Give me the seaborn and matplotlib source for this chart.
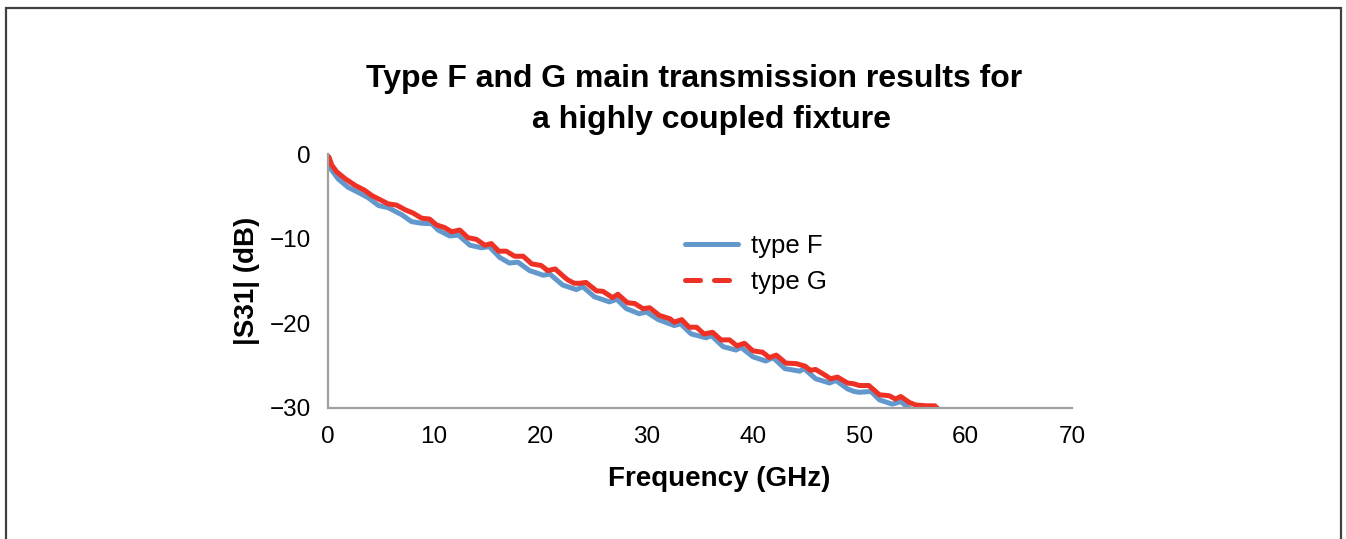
import matplotlib
matplotlib.use("Agg")
import matplotlib.pyplot as plt
from matplotlib.lines import Line2D
from matplotlib.patches import Rectangle
import seaborn as sns
import pandas as pd

# ---- data ----
freq_g = [0, 0.15, 0.4, 0.86, 1.64, 2.58, 3.5, 4.15, 4.93, 5.7, 6.5, 7.3, 8.06, 8.85, 9.6,
          10.25, 11.0, 11.66, 12.44, 13.2, 14.0, 14.8, 15.4, 16.1, 16.8, 17.6, 18.4, 19.2,
          20.1, 20.7, 21.4, 22.3, 22.6, 23.2, 23.7, 24.3, 25.3, 25.9, 26.8, 27.3, 28.2, 28.9,
          29.65, 30.3, 31.2, 32.2, 32.6, 33.3, 34.0, 34.7, 35.4, 36.2, 37.0, 37.8, 38.5, 39.2,
          40.0, 40.9, 41.55, 42.2, 43.1, 44.05, 44.9, 45.4, 45.9, 46.7, 47.3, 47.95, 48.9,
          49.5, 50.0, 50.9, 51.9, 52.8, 53.4, 53.9, 54.7, 55.3, 56.3, 57.1, 57.6, 58.5, 60.0]
s31_g = [-0.2, -0.4, -1.3, -2.1, -2.9, -3.7, -4.3, -4.9, -5.4, -5.9, -6.05, -6.6, -7.0, -7.6, -7.7,
         -8.4, -8.7, -9.2, -9.0, -9.9, -10.1, -10.8, -10.6, -11.5, -11.5, -12.1, -12.1, -13.0,
         -13.2, -13.8, -13.6, -14.6, -14.9, -15.3, -15.3, -15.2, -16.2, -16.25, -17.0, -16.6, -17.6, -17.7,
         -18.3, -18.2, -19.1, -19.5, -19.9, -19.6, -20.5, -20.5, -21.3, -21.1, -22.0, -22.0, -22.7, -22.4,
         -23.3, -23.45, -24.1, -23.8, -24.75, -24.8, -25.1, -25.6, -25.5, -26.1, -26.6, -26.4, -27.1,
         -27.2, -27.4, -27.4, -28.5, -28.6, -29.0, -28.7, -29.4, -29.7, -29.8, -29.8, -30.4, -30.9, -31.6]

freq_f = [0, 0.23, 1.0, 1.95, 2.9, 3.8, 4.8, 5.7, 7.0, 7.9, 8.85, 9.8, 10.4, 11.5, 12.3, 13.4,
          14.5, 15.2, 16.2, 17.1, 17.9, 19.0, 20.3, 20.9, 22.1, 23.4, 24.0, 25.1, 26.5, 27.2,
          28.1, 29.3, 30.0, 31.1, 32.6, 33.2, 34.2, 35.6, 36.1, 37.2, 38.4, 38.9, 40.0, 41.2,
          41.9, 43.0, 44.4, 44.8, 45.9, 47.2, 47.8, 48.9, 49.5, 50.0, 51.1, 51.9, 53.1, 53.9,
          54.5, 55.2, 57.0, 60.0]
s31_f = [-0.6, -1.6, -2.95, -3.95, -4.55, -5.15, -6.1, -6.35, -7.2, -8.0, -8.2, -8.25, -9.0, -9.7, -9.6, -10.8,
         -11.1, -10.95, -12.25, -12.9, -12.8, -13.8, -14.35, -14.2, -15.5, -16.05, -15.7, -16.9, -17.5, -17.2,
         -18.3, -18.9, -18.7, -19.6, -20.3, -20.1, -21.3, -21.75, -21.5, -22.8, -23.2, -22.9, -24.0, -24.5,
         -24.1, -25.4, -25.7, -25.4, -26.6, -27.1, -26.8, -27.8, -28.1, -28.2, -28.1, -29.1, -29.6, -29.3,
         -29.9, -30.5, -31.3, -32.3]

x_ticks = [0, 10, 20, 30, 40, 50, 60, 70]
y_ticks = [-30, -20, -10, 0]
series_names = ["type F", "type G"]

title_line1 = "Type F and G main transmission results for"
title_line2 = "a highly coupled fixture"
x_label = "Frequency (GHz)"
y_label = "|S31| (dB)"

# ---- styling ----
sns.set_style("white")
plt.rcParams["font.family"] = ["Liberation Sans", "DejaVu Sans"]
plt.rcParams["text.color"] = "black"

W, H = 1346, 539
fig = plt.figure(figsize=(W / 100, H / 100), dpi=100)
fig.patch.set_facecolor("white")

ax = fig.add_axes([327.5 / W, 1 - 407.5 / H, (1072 - 327.5) / W, (407.5 - 154) / H])

blue = "#6398cd"
red = "#ee3124"

df_f = pd.DataFrame({"freq": freq_f, "s31": s31_f})
df_g = pd.DataFrame({"freq": freq_g, "s31": s31_g})
sns.lineplot(data=df_f, x="freq", y="s31", color=blue, lw=3.6, ax=ax, sort=False,
             estimator=None, legend=False)
sns.lineplot(data=df_g, x="freq", y="s31", color=red, lw=3.6, ax=ax, sort=False,
             estimator=None, legend=False)

ax.set_xlim(0, 70)
ax.set_ylim(-30, 0)
ax.set_xticks(x_ticks)
ax.set_yticks(y_ticks)
ax.set_xticklabels([str(t).replace("-", "\u2212") for t in x_ticks])
ax.set_yticklabels([str(t).replace("-", "\u2212") for t in y_ticks])
ax.set_xlabel("")
ax.set_ylabel("")

gray = "#a0a0a0"
for side in ["top", "right"]:
    ax.spines[side].set_visible(False)
for side in ["left", "bottom"]:
    ax.spines[side].set_color(gray)
    ax.spines[side].set_linewidth(1.6)
ax.tick_params(axis="both", direction="out", length=7, width=1.4, color=gray,
               labelsize=17.5, labelcolor="black")
ax.tick_params(axis="x", pad=6)
ax.tick_params(axis="y", pad=5)
ax.grid(False)

# legend
handles = [Line2D([], [], color=blue, lw=3.6, solid_capstyle="round"),
           Line2D([], [], color=red, lw=3.6, linestyle=(0, (3.0, 2.8)), dash_capstyle="round")]
ax.legend(handles, series_names, loc="center left", bbox_to_anchor=(0.467, 0.566),
          borderaxespad=0, frameon=False, fontsize=18.5, handlelength=2.05,
          handletextpad=0.5, labelspacing=0.5)

# titles and axis labels
fig.text(694.5 / W, 1 - 87 / H, title_line1, ha="center", va="baseline",
         fontsize=23, fontweight="bold", color="black")
fig.text(711 / W, 1 - 128 / H, title_line2, ha="center", va="baseline",
         fontsize=23, fontweight="bold", color="black")
fig.text(719.5 / W, 1 - 479 / H, x_label, ha="center", va="center",
         fontsize=20, fontweight="bold", color="black")
fig.text(246.5 / W, 1 - 280.5 / H, y_label, ha="center", va="center", rotation=90,
         fontsize=20, fontweight="bold", color="black")

# chart border
fig.patches.append(Rectangle((5.5 / W, -0.05), (1341 - 5.5) / W, 1.05 - 8 / H,
                             transform=fig.transFigure, fill=False,
                             edgecolor="#404040", lw=1.6))

fig.savefig("out.png", dpi=100, facecolor="white")
